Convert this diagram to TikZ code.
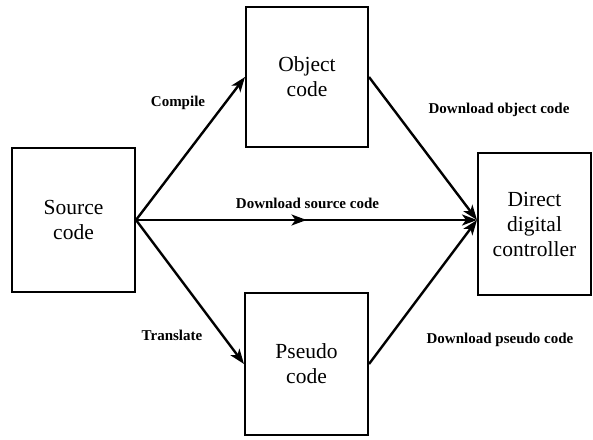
\documentclass[tikz,border=0pt]{standalone}
\usepackage{fontspec}
\setmainfont{Liberation Serif}
\usepackage{tikz}
\usetikzlibrary{arrows.meta}
\usetikzlibrary{decorations.markings}
\tikzstyle{block} = [draw, line width=2pt, inner sep=0pt, align=center, font=\fontsize{21.5}{25}\selectfont]
\tikzstyle{arrow} = [line width=2.4pt,-{Stealth[length=15pt,width=11pt,inset=4pt]}]
\tikzstyle{lbl} = [font=\fontsize{15}{18}\selectfont\bfseries]

\begin{document}
\begin{tikzpicture}[x=1pt, y=1pt]
    \useasboundingbox (0,0) rectangle (593,439);

    % boxes
    \node[block, minimum width=123pt, minimum height=143pt] (src) at (73.5,219) {Source\\code};
    \node[block, minimum width=122pt, minimum height=140pt] (obj) at (307,362) {Object\\code};
    \node[block, minimum width=123pt, minimum height=142pt] (pse) at (306.5,75) {Pseudo\\code};
    \node[block, minimum width=113pt, minimum height=142pt] (ddc) at (534.5,215) {Direct\\digital\\controller};
    \coordinate (ddcin) at (ddc.west |- src.east);

    % connectors
    \draw[arrow] (src.east) -- (obj.west);
    \draw[arrow] (src.east) -- (pse.west);
    \draw[arrow, postaction={decorate}, decoration={markings,
        mark=at position 0.5 with {\arrow{Stealth[length=15pt,width=11pt,inset=4pt]}}}]
        (src.east) -- (ddcin);
    \draw[arrow] (obj.east) -- (ddcin);
    \draw[arrow] (pse.east) -- (ddcin);

    % labels
    \node[lbl] (compile) at (178,336) {Compile};
    \node[lbl] (translate) at (172,104) {Translate};
    \node[lbl] (dlsrc) at (307.5,236) {Download source code};
    \node[lbl] (dlobj) at (499,329) {Download object code};
    \node[lbl] (dlpse) at (500,99) {Download pseudo code};
\end{tikzpicture}
\end{document}
